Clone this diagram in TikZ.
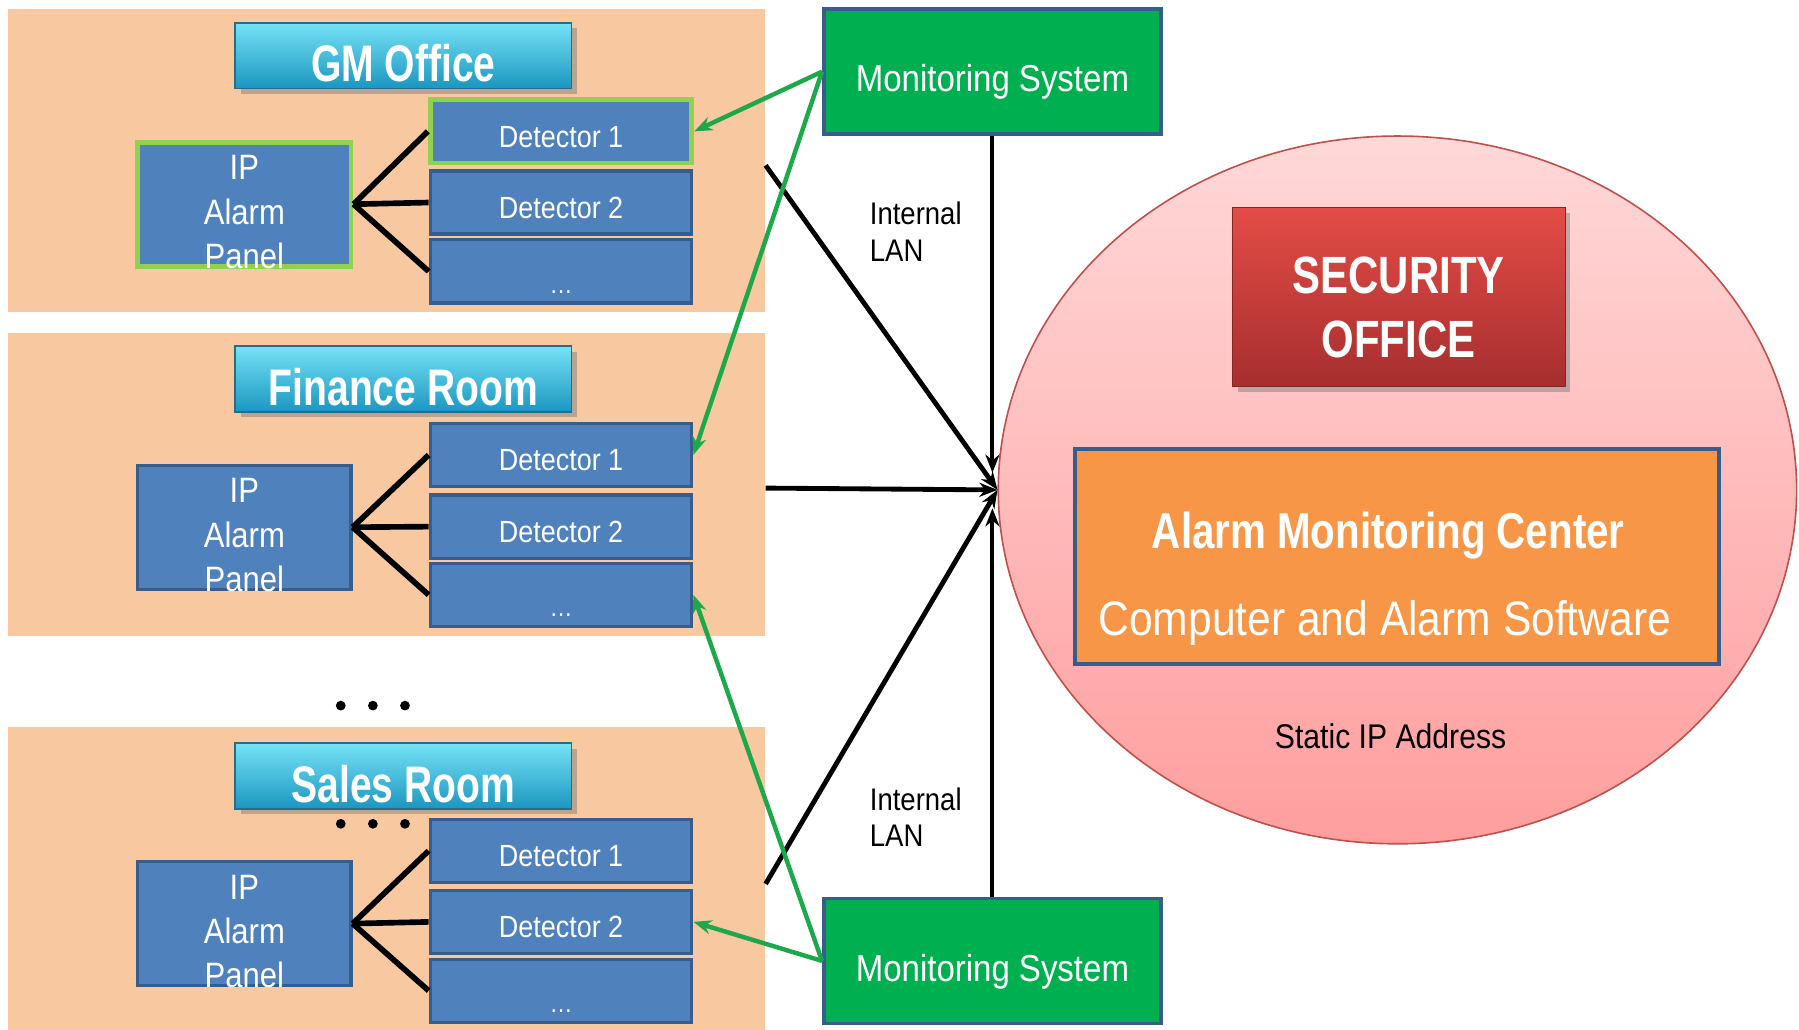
\documentclass[tikz,border=0pt]{standalone}
\usepackage{fontspec}
\setmainfont[FakeStretch=0.88]{Liberation Sans}
\newfontfamily\narrowsf[FakeStretch=0.8]{Liberation Sans}
\newfontfamily\tightsf[FakeStretch=0.76]{Liberation Sans}
\usetikzlibrary{arrows.meta,shapes,shadows}

\definecolor{roomfill}{RGB}{248,201,160}
\definecolor{titletop}{RGB}{118,226,246}
\definecolor{titlebot}{RGB}{26,150,192}
\definecolor{titleline}{RGB}{38,108,140}
\definecolor{boxblue}{RGB}{79,129,189}
\definecolor{boxline}{RGB}{56,93,138}
\definecolor{mongreen}{RGB}{0,176,80}
\definecolor{ctrlgreen}{RGB}{30,168,76}
\definecolor{panelgreen}{RGB}{146,208,80}
\definecolor{elltop}{RGB}{255,216,216}
\definecolor{ellbot}{RGB}{255,158,158}
\definecolor{ellline}{RGB}{190,80,77}
\definecolor{sectop}{RGB}{228,76,70}
\definecolor{secbot}{RGB}{166,46,46}
\definecolor{amcfill}{RGB}{247,150,70}

\begin{document}
\begin{tikzpicture}[x=0.02cm,y=-0.02cm,>={Stealth[length=9pt,width=7pt]},
room/.style ={rectangle, fill=roomfill, minimum width=13.2cm, minimum height=5.28cm},
roomtitle/.style ={rectangle, draw=titleline, thick, top color=titletop, bottom color=titlebot, minimum width=5.86cm, minimum height=1.06cm, text height=26pt, text depth=0pt, text=white, font=\tightsf\bfseries\fontsize{25.5}{30}\selectfont, drop shadow},
ippanel/.style ={rectangle, draw=boxline, line width=1.6pt, fill=boxblue, minimum width=3.72cm, minimum height=2.16cm},
iptext/.style ={inner sep=0pt, text=white, align=center, font=\fontsize{17.5}{22}\selectfont},
det/.style ={rectangle, draw=boxline, line width=1.6pt, fill=boxblue, minimum width=4.56cm, minimum height=1.1cm, text height=15.5pt, text depth=0pt, text=white, font=\fontsize{15.2}{18}\selectfont},
dots/.style ={text=white, font=\fontsize{13}{15}\selectfont, anchor=base},
mon/.style ={rectangle, draw=boxline, line width=1.8pt, fill=mongreen, minimum width=5.88cm, minimum height=2.18cm, text height=24pt, text depth=4pt, text=white, font=\fontsize{18.6}{22}\selectfont},
lanlabel/.style ={anchor=west, align=left, font=\fontsize{15.5}{18}\selectfont},
wire/.style ={line width=2.8pt},
lan/.style ={line width=2.4pt},
lanv/.style ={line width=2pt},
ctrl/.style ={ctrlgreen, line width=2.2pt}
]
\fill[white] (0,0) rectangle (1568,897);
\useasboundingbox (0,0) rectangle (1568,897);

% rooms
\node[room] (gmroom) at (337,140) {};
\node[room] (finroom) at (337,422.5) {};
\node[room] (salroom) at (337,766) {};
\node[roomtitle] (gmtitle) at (351.5,48.5) {GM Office};
\node[roomtitle] (fintitle) at (351.5,330.5) {Finance Room};
\node[roomtitle] (saltitle) at (351.5,676.5) {Sales Room};

\node[ippanel, draw=panelgreen, line width=2.4pt] (gmpanel) at (213,178) {};
\node[ippanel] (finpanel) at (213,459.5) {};
\node[ippanel] (salpanel) at (213,805) {};
\foreach \room in {gm,fin,sal}
  \node[iptext] (\room paneltext) at ([yshift=-4pt]\room panel.center) {IP\\Alarm\\Panel};

\node[det, draw=panelgreen, line width=2.4pt] (gmdet1) at (489,114.5) {Detector 1};
\node[det] (gmdet2) at (489,176.5) {Detector 2};
\node[det] (gmdet3) at (489,236.5) {};
\node[det] (findet1) at (489,396.5) {Detector 1};
\node[det] (findet2) at (489,459) {Detector 2};
\node[det] (findet3) at (489,518.5) {};
\node[det] (saldet1) at (489,741.5) {Detector 1};
\node[det] (saldet2) at (489,803.5) {Detector 2};
\node[det] (saldet3) at (489,863.5) {};
\foreach \room in {gm,fin,sal} {
  \node[dots] (\room dots) at ([yshift=0.2cm]\room det3.south) {\ldots};
  \foreach \d in {1,2,3}
    \draw[wire] (\room panel.east) -- (\room det\d.west);
}

\foreach \x in {297,325,353} {
  \fill (\x,615) circle (0.085cm);
  \fill (\x,718) circle (0.085cm);
}

% security office
\node[ellipse, draw=ellline, thick, top color=elltop, bottom color=ellbot, minimum width=13.92cm, minimum height=12.34cm] (secell) at (1218,427) {};
\node[rectangle, draw=secbot!80!black, thin, top color=sectop, bottom color=secbot, minimum width=5.8cm, minimum height=3.12cm, drop shadow] (secoff) at (1219,259) {};
\node[text=white, align=center, font=\narrowsf\bfseries\fontsize{26}{31.5}\selectfont] (secofftext) at ([yshift=-5pt]secoff.center) {SECURITY\\OFFICE};
\node[rectangle, draw=boxline, line width=2pt, fill=amcfill, minimum width=11.22cm, minimum height=3.76cm] (amc) at (1217.5,485) {};
\node[text=white, font=\narrowsf\bfseries\fontsize{25}{30}\selectfont] (amcname) at (1210,467) {Alarm Monitoring Center};
\node[text=white, font=\fontsize{24}{28}\selectfont] (amcsoft) at (1207,543) {Computer and Alarm Software};
\node[font=\fontsize{17}{20}\selectfont] (staticip) at (1212,642) {Static IP Address};

% monitoring
\node[mon] (montop) at (865,62.5) {Monitoring System};
\node[mon] (monbot) at (865,837.5) {Monitoring System};
\node[lanlabel] (lantop) at (752,202) {Internal\\LAN};
\node[lanlabel] (lanbot) at (752,712) {Internal\\LAN};

\coordinate (inT) at (865,412);
\coordinate (inB) at (865,443);
\draw[lanv,->] (montop.south) -- (inT);
\draw[lanv,->] (monbot.north) -- (inB);
\draw[lan,->] (gmroom.east |- gmdet1.south) -- (secell.west);
\draw[lan,->] (finroom.east |- findet1.south) -- (secell.west);
\draw[lan,->] (salroom.east |- saldet1.south) -- (secell.west);

\draw[ctrl,->] (montop.west) -- (gmdet1.east);
\draw[ctrl,->] (montop.west) -- (findet1.east);
\draw[ctrl,->] (monbot.west) -- (saldet2.east);
\draw[ctrl,->] (monbot.west) -- (findet3.east);
\end{tikzpicture}
\end{document}
